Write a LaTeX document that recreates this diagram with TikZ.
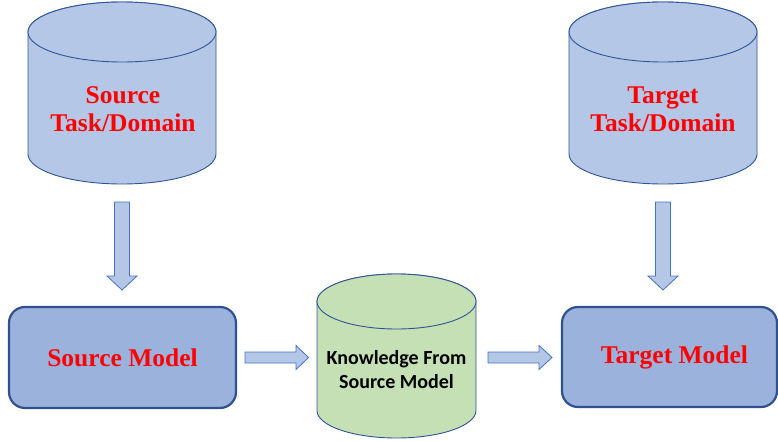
\documentclass[tikz,border=0pt]{standalone}
\usepackage{fontspec}
\newfontfamily\calib{Carlito}
\newfontfamily\pala{Liberation Serif}
\usetikzlibrary{calc}
\definecolor{cylfill}{HTML}{B4C7E7}
\definecolor{cylline}{HTML}{2F5597}
\definecolor{boxfill}{HTML}{9BB2DD}
\definecolor{boxline}{HTML}{2F528F}
\definecolor{grnfill}{HTML}{C5E0B4}
\definecolor{arrline}{HTML}{4472C4}
\tikzset{
  cylstyle/.style={fill=cylfill, draw=cylline, line width=0.9pt},
  grnstyle/.style={fill=grnfill, draw=cylline, line width=0.9pt},
  modelbox/.style={draw=boxline, fill=boxfill, line width=2.2pt, rounded corners=16pt},
  redtext/.style={text=red, font=\pala\bfseries\fontsize{25.5}{28}\selectfont, align=center, inner sep=0pt},
  knowtext/.style={text=black, font=\calib\bfseries\fontsize{20}{24}\selectfont, align=center, inner sep=0pt},
  blockarr/.style={fill=cylfill, draw=arrline, line width=0.8pt, line join=miter}
}
% cx, Ytop, Ybot, rx, ry, style
\newcommand\drawcyl[6]{%
  \path[#6] ({#1-#4},#2) -- ({#1-#4},#3) arc[start angle=180, end angle=360, x radius=#4, y radius=#5]
     -- ({#1+#4},#2) arc[start angle=0, end angle=180, x radius=#4, y radius=#5] -- cycle;
  \path[#6] (#1,#2) ellipse[x radius=#4, y radius=#5];
}
\begin{document}
\begin{tikzpicture}[x=1pt,y=1pt]
\useasboundingbox (0,0) rectangle (778,440);
% cylinders
\drawcyl{122}{408}{286}{94}{30}{cylstyle}
\drawcyl{663}{408}{286}{94}{30}{cylstyle}
\drawcyl{396.5}{138.5}{29.5}{79.5}{27.5}{grnstyle}
\node[redtext] (srcdom) at (123,331) {Source\\Task/Domain};
\node[redtext] (tgtdom) at (663,331) {Target\\Task/Domain};
\node[knowtext] (know) at (396.5,70) {Knowledge From\\Source Model};
% model boxes
\draw[modelbox] (9,32) rectangle (236,133);
\node[redtext] (srcmodel) at (122.5,82.5) {Source Model};
\draw[modelbox] (562,33) rectangle (777,133);
\node[redtext] (tgtmodel) at (674.5,82.5) {Target Model};
% block arrows (down)
\draw[blockarr] (114.5,238) -- (114.5,164) -- (107,164) -- (122,150) -- (137,164) -- (129.5,164) -- (129.5,238) -- cycle;
\draw[blockarr] (655.5,238) -- (655.5,164) -- (648,164) -- (663,150) -- (678,164) -- (670.5,164) -- (670.5,238) -- cycle;
% block arrows (right)
\draw[blockarr] (245,77) -- (296,77) -- (296,70.5) -- (308.5,82.5) -- (296,94.5) -- (296,88) -- (245,88) -- cycle;
\draw[blockarr] (488,77) -- (539,77) -- (539,70.5) -- (552,82.5) -- (539,94.5) -- (539,88) -- (488,88) -- cycle;
\end{tikzpicture}
\end{document}
